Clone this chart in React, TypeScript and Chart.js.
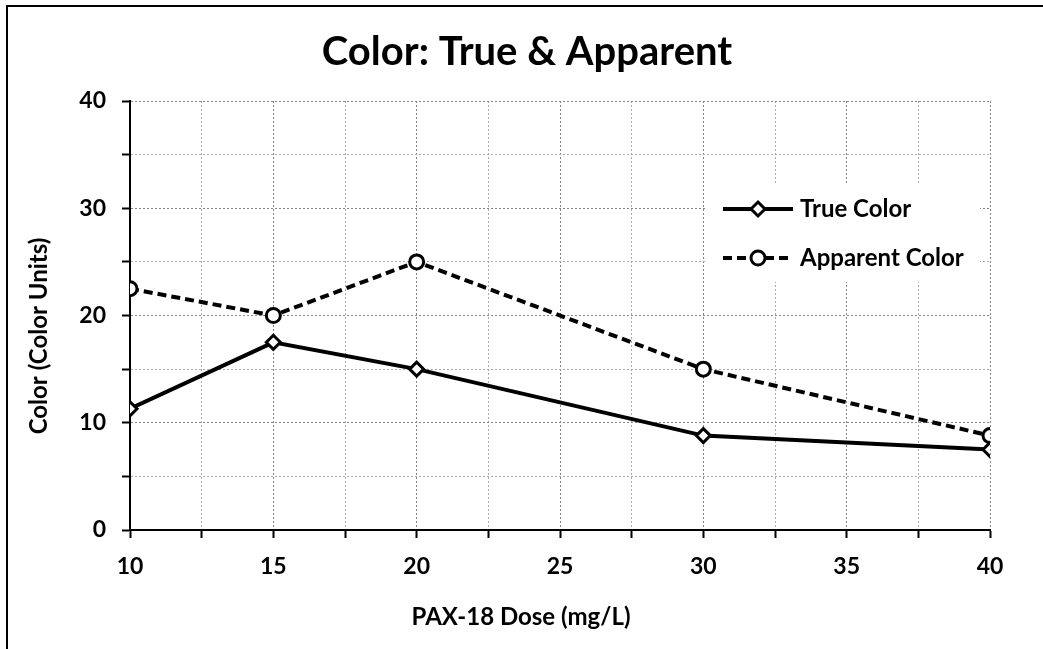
import React, { useEffect, useRef } from 'react';
import { Chart, registerables } from 'chart.js';

Chart.register(...registerables);

// ---- data ----
const doses = [10, 15, 20, 30, 40];
const trueColor = [11.3, 17.5, 15.0, 8.8, 7.5];
const apparentColor = [22.5, 20.0, 25.0, 15.0, 8.8];
const seriesNames = ['True Color', 'Apparent Color'];
const chartTitle = 'Color: True & Apparent';
const xAxisTitle = 'PAX-18 Dose (mg/L)';
const yAxisTitle = 'Color (Color Units)';
const xRange = [10, 40];
const yRange = [0, 40];

const FONT = 'Lato, "Open Sans", sans-serif';

const framePlugin = {
  id: 'frame',
  beforeDraw(chart: any) {
    const { ctx, width, height } = chart;
    ctx.save();
    ctx.fillStyle = '#ffffff';
    ctx.fillRect(0, 0, width, height);
    ctx.strokeStyle = '#000000';
    ctx.lineWidth = 2;
    ctx.strokeRect(7, 6, width + 100, height + 100);
    ctx.restore();
  },
};

function drawMarker(ctx: CanvasRenderingContext2D, style: string, x: number, y: number, r: number) {
  ctx.beginPath();
  if (style === 'rectRot') {
    ctx.moveTo(x - r, y);
    ctx.lineTo(x, y - r);
    ctx.lineTo(x + r, y);
    ctx.lineTo(x, y + r);
    ctx.closePath();
  } else {
    ctx.arc(x, y, r, 0, Math.PI * 2);
  }
  ctx.fill();
  ctx.stroke();
}

const legendPlugin = {
  id: 'innerLegend',
  afterDatasetsDraw(chart: any) {
    const { ctx } = chart;
    const boxL = 706, boxT = 184, boxR = 980, boxB = 282;
    ctx.save();
    ctx.fillStyle = '#ffffff';
    ctx.fillRect(boxL, boxT, boxR - boxL, boxB - boxT);
    const rows = [209, 258];
    chart.data.datasets.forEach((ds: any, i: number) => {
      const y = rows[i];
      ctx.strokeStyle = ds.borderColor;
      ctx.lineWidth = ds.borderWidth;
      ctx.setLineDash(ds.borderDash || []);
      ctx.beginPath();
      ctx.moveTo(723, y);
      ctx.lineTo(793, y);
      ctx.stroke();
      ctx.setLineDash([]);
      ctx.fillStyle = ds.pointBackgroundColor;
      ctx.strokeStyle = ds.pointBorderColor;
      ctx.lineWidth = ds.pointBorderWidth;
      drawMarker(ctx, ds.pointStyle, 758, y, ds.pointRadius);
      ctx.fillStyle = '#000000';
      ctx.font = `bold 24px ${FONT}`;
      ctx.textAlign = 'left';
      ctx.textBaseline = 'alphabetic';
      ctx.fillText(ds.label, 800, y + 8);
    });
    ctx.restore();
  },
};

const axisTitlePlugin = {
  id: 'axisTitles',
  afterDraw(chart: any) {
    const { ctx } = chart;
    ctx.save();
    ctx.fillStyle = '#000000';
    ctx.font = `bold 24px ${FONT}`;
    ctx.textAlign = 'center';
    ctx.textBaseline = 'alphabetic';
    ctx.fillText(xAxisTitle, 521, 625);
    ctx.translate(47, 336);
    ctx.rotate(-Math.PI / 2);
    ctx.fillText(yAxisTitle, 0, 0);
    ctx.restore();
  },
};

export default function App() {
  const canvasRef = useRef<HTMLCanvasElement | null>(null);

  useEffect(() => {
    if (!canvasRef.current) return;
    const toPoints = (ys: number[]) => doses.map((x, i) => ({ x, y: ys[i] }));
    const tickFont = { family: FONT, size: 23, weight: 'bold' };
    const chart = new Chart(canvasRef.current, {
      type: 'line',
      data: {
        datasets: [
          {
            label: seriesNames[0],
            data: toPoints(trueColor),
            borderColor: '#000000',
            borderWidth: 4,
            pointStyle: 'rectRot',
            pointRadius: 7,
            pointBorderWidth: 3,
            pointBackgroundColor: '#ffffff',
            pointBorderColor: '#000000',
            tension: 0,
          },
          {
            label: seriesNames[1],
            data: toPoints(apparentColor),
            borderColor: '#000000',
            borderWidth: 4,
            borderDash: [9, 5],
            pointStyle: 'circle',
            pointRadius: 7,
            pointBorderWidth: 3,
            pointBackgroundColor: '#ffffff',
            pointBorderColor: '#000000',
            tension: 0,
          },
        ],
      },
      options: {
        responsive: false,
        animation: false,
        devicePixelRatio: 1,
        layout: { padding: { left: 64, right: 53, top: 0, bottom: 0 } },
        plugins: {
          legend: { display: false },
          tooltip: { enabled: false },
          title: {
            display: true,
            text: chartTitle,
            color: '#000000',
            font: { family: FONT, size: 40, weight: 'bold' },
            padding: { top: 28, bottom: 25 },
          },
        },
        scales: {
          x: {
            type: 'linear',
            min: xRange[0],
            max: xRange[1],
            afterFit: (s: any) => { s.height = 119; },
            ticks: {
              stepSize: 2.5,
              autoSkip: false,
              maxRotation: 0,
              padding: 15,
              color: '#000000',
              font: tickFont,
              callback: (v: any) => (Number(v) % 5 === 0 ? String(v) : ''),
            },
            grid: {
              color: (c: any) => (c.tick && c.tick.value % 5 === 0 ? '#858585' : '#aaaaaa'),
              lineWidth: 1,
              tickLength: 8,
              tickColor: '#000000',
              tickWidth: 2,
              tickBorderDash: [0, 0],
            },
            border: { display: true, color: '#000000', width: 2, dash: [2, 2] },
          },
          y: {
            type: 'linear',
            min: yRange[0],
            max: yRange[1],
            afterFit: (s: any) => { s.width = 66; },
            ticks: {
              stepSize: 5,
              autoSkip: false,
              padding: 16,
              color: '#000000',
              font: tickFont,
              callback: (v: any) => (Number(v) % 10 === 0 ? String(v) : ''),
            },
            grid: {
              color: (c: any) => (c.tick && c.tick.value % 10 === 0 ? '#858585' : '#aaaaaa'),
              lineWidth: 1,
              tickLength: 8,
              tickColor: '#000000',
              tickWidth: 2,
              tickBorderDash: [0, 0],
            },
            border: { display: true, color: '#000000', width: 2, dash: [2, 2] },
          },
        },
      },
      plugins: [framePlugin, legendPlugin, axisTitlePlugin],
    } as any);
    return () => chart.destroy();
  }, []);

  return (
    <div style={{ position: 'absolute', left: 0, top: 0, width: 1043, height: 649, overflow: 'hidden', background: '#fff' }}>
      <canvas ref={canvasRef} width={1043} height={649} style={{ display: 'block' }} />
    </div>
  );
}
